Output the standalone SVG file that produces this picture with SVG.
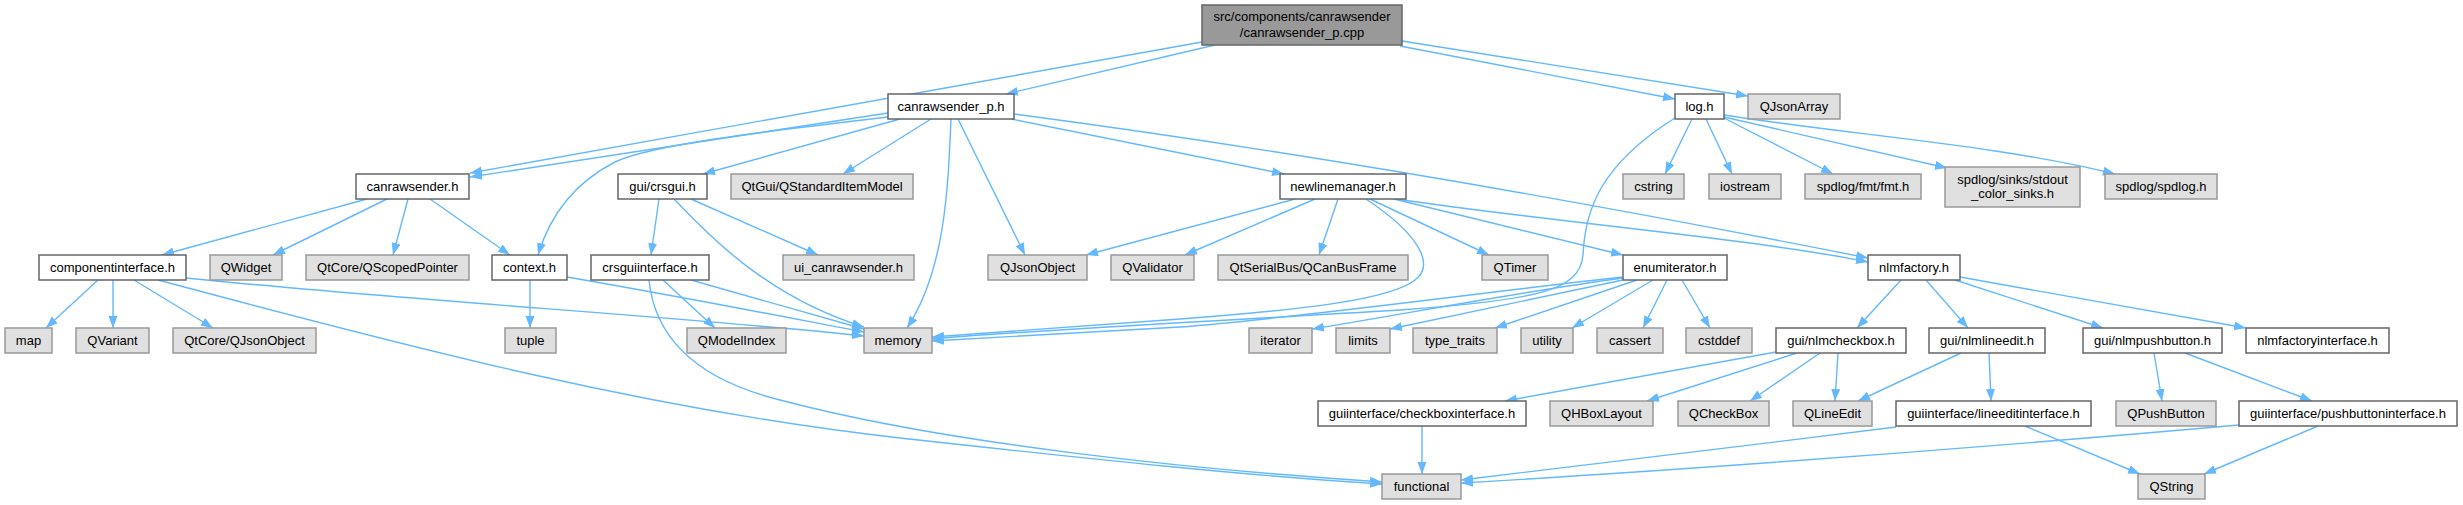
<svg xmlns="http://www.w3.org/2000/svg" width="2463" height="505" viewBox="0 0 2463 505">
<style>
.node rect{fill:#ffffff;stroke:#666666;stroke-width:1.5}
.ext rect{fill:#e0e0e0;stroke:#999999;stroke-width:1.5}
.root rect{fill:#999999;stroke:#666666;stroke-width:1.5}
text{font-family:"Liberation Sans",Arial,Helvetica,sans-serif;font-size:13px;fill:#000000;text-anchor:middle}
#edges path{fill:none;stroke:#63b8ff;stroke-width:1.4;marker-end:url(#ah)}
</style>
<defs>
<marker id="ah" markerUnits="userSpaceOnUse" markerWidth="13" markerHeight="10" refX="12" refY="4.5" orient="auto">
<path d="M0,0 L12,4.5 L0,9 z" fill="#63b8ff"/>
</marker>
</defs>
<rect x="0" y="0" width="2463" height="505" fill="#ffffff"/>
<g id="edges">
<path d="M1202,42 L470,173"/>
<path d="M888,113 L470,177"/>
<path d="M1215,45 L1006,94"/>
<path d="M1400,46 L1675,99"/>
<path d="M1402,41 L1748,96"/>
<path d="M888,117 C760,132 650,145 615,162 C570,185 548,222 538,255"/>
<path d="M900,119 L703,174"/>
<path d="M931,119 L843,174"/>
<path d="M951,119 C948,190 945,270 907,328"/>
<path d="M958,119 L1025,255"/>
<path d="M1011,119 L1284,174"/>
<path d="M1014,114 Q1400,165 1868,258"/>
<path d="M367,199 L162,255"/>
<path d="M387,199 L273,255"/>
<path d="M408,199 L393,255"/>
<path d="M430,199 L510,255"/>
<path d="M530,280 L530,328"/>
<path d="M567,277 C700,300 800,320 864,332"/>
<path d="M98,280 L46,328"/>
<path d="M113,280 L113,328"/>
<path d="M134,280 L213,328"/>
<path d="M186,278 C400,300 700,318 864,336"/>
<path d="M158,280 C420,350 650,410 900,438 C1100,460 1250,476 1382,484"/>
<path d="M659,199 L651,255"/>
<path d="M674,199 C700,225 760,295 864,327"/>
<path d="M691,199 L818,255"/>
<path d="M663,280 L715,328"/>
<path d="M691,280 L864,329"/>
<path d="M649,280 C655,340 700,380 780,400 C950,445 1200,470 1382,482"/>
<path d="M1295,199 L1086,255"/>
<path d="M1315,199 L1185,255"/>
<path d="M1338,199 L1319,255"/>
<path d="M1366,199 C1420,235 1435,265 1415,280 C1390,300 1300,310 1180,319 C1080,326 990,333 932,337"/>
<path d="M1370,199 L1489,255"/>
<path d="M1394,199 L1623,255"/>
<path d="M1396,199 C1550,222 1750,238 1868,262"/>
<path d="M1675,118 C1600,165 1585,210 1583,255 C1580,290 1540,300 1400,310 C1200,322 1000,332 932,339"/>
<path d="M1692,119 L1665,174"/>
<path d="M1706,119 L1732,174"/>
<path d="M1724,118 L1833,174"/>
<path d="M1724,117 L1947,168"/>
<path d="M1724,115 C1850,135 2000,145 2115,174"/>
<path d="M1623,277 C1500,290 1300,318 1180,327 C1080,332 990,338 932,341"/>
<path d="M1623,278 C1500,295 1400,315 1312,329"/>
<path d="M1623,280 L1390,329"/>
<path d="M1637,280 L1495,328"/>
<path d="M1653,280 L1572,328"/>
<path d="M1667,280 L1643,328"/>
<path d="M1682,280 L1710,328"/>
<path d="M1901,280 L1857,328"/>
<path d="M1926,280 L1968,328"/>
<path d="M1955,280 L2103,328"/>
<path d="M1960,277 L2246,328"/>
<path d="M1776,352 L1505,401"/>
<path d="M1797,353 L1647,401"/>
<path d="M1820,353 L1750,401"/>
<path d="M1838,353 L1835,401"/>
<path d="M1961,353 L1858,401"/>
<path d="M1989,353 L1991,401"/>
<path d="M2154,353 L2162,401"/>
<path d="M2185,353 L2312,401"/>
<path d="M1422,426 L1422,474"/>
<path d="M1896,427 C1750,445 1550,470 1461,480"/>
<path d="M2239,425 C1900,455 1600,475 1461,483"/>
<path d="M2025,426 L2140,474"/>
<path d="M2318,426 L2204,474"/>
</g>
<g id="n0" class="root"><rect x="1202" y="5" width="200" height="40"/><text x="1302" y="21">src/components/canrawsender</text><text x="1302" y="37">/canrawsender_p.cpp</text></g>
<g id="n1" class="node"><rect x="888" y="94" width="126" height="25"/><text x="951" y="111">canrawsender_p.h</text></g>
<g id="n2" class="node"><rect x="1675" y="94" width="49" height="25"/><text x="1699.5" y="111">log.h</text></g>
<g id="n3" class="ext"><rect x="1748" y="94" width="92" height="25"/><text x="1794" y="111">QJsonArray</text></g>
<g id="n4" class="node"><rect x="356" y="174" width="113" height="25"/><text x="412.5" y="191">canrawsender.h</text></g>
<g id="n5" class="node"><rect x="618" y="174" width="89" height="25"/><text x="662.5" y="191">gui/crsgui.h</text></g>
<g id="n6" class="ext"><rect x="731" y="174" width="182" height="25"/><text x="822" y="191">QtGui/QStandardItemModel</text></g>
<g id="n7" class="node"><rect x="1280" y="174" width="126" height="25"/><text x="1343" y="191">newlinemanager.h</text></g>
<g id="n8" class="ext"><rect x="1623" y="174" width="61" height="25"/><text x="1653.5" y="191">cstring</text></g>
<g id="n9" class="ext"><rect x="1709" y="174" width="72" height="25"/><text x="1745" y="191">iostream</text></g>
<g id="n10" class="ext"><rect x="1805" y="174" width="116" height="25"/><text x="1863" y="191">spdlog/fmt/fmt.h</text></g>
<g id="n11" class="ext"><rect x="1945" y="167" width="135" height="40"/><text x="2012.5" y="183.5">spdlog/sinks/stdout</text><text x="2012.5" y="198">_color_sinks.h</text></g>
<g id="n12" class="ext"><rect x="2105" y="174" width="112" height="25"/><text x="2161" y="191">spdlog/spdlog.h</text></g>
<g id="n13" class="node"><rect x="39" y="255" width="147" height="25"/><text x="112.5" y="272">componentinterface.h</text></g>
<g id="n14" class="ext"><rect x="210" y="255" width="72" height="25"/><text x="246" y="272">QWidget</text></g>
<g id="n15" class="ext"><rect x="306" y="255" width="163" height="25"/><text x="387.5" y="272">QtCore/QScopedPointer</text></g>
<g id="n16" class="node"><rect x="492" y="255" width="75" height="25"/><text x="529.5" y="272">context.h</text></g>
<g id="n17" class="node"><rect x="591" y="255" width="118" height="25"/><text x="650" y="272">crsguiinterface.h</text></g>
<g id="n18" class="ext"><rect x="783" y="255" width="131" height="25"/><text x="848.5" y="272">ui_canrawsender.h</text></g>
<g id="n19" class="ext"><rect x="988" y="255" width="99" height="25"/><text x="1037.5" y="272">QJsonObject</text></g>
<g id="n20" class="ext"><rect x="1111" y="255" width="83" height="25"/><text x="1152.5" y="272">QValidator</text></g>
<g id="n21" class="ext"><rect x="1218" y="255" width="190" height="25"/><text x="1313" y="272">QtSerialBus/QCanBusFrame</text></g>
<g id="n22" class="ext"><rect x="1482" y="255" width="66" height="25"/><text x="1515" y="272">QTimer</text></g>
<g id="n23" class="node"><rect x="1623" y="255" width="104" height="25"/><text x="1675" y="272">enumiterator.h</text></g>
<g id="n24" class="node"><rect x="1868" y="255" width="92" height="25"/><text x="1914" y="272">nlmfactory.h</text></g>
<g id="n25" class="ext"><rect x="5" y="328" width="47" height="25"/><text x="28.5" y="345">map</text></g>
<g id="n26" class="ext"><rect x="76" y="328" width="73" height="25"/><text x="112.5" y="345">QVariant</text></g>
<g id="n27" class="ext"><rect x="173" y="328" width="143" height="25"/><text x="244.5" y="345">QtCore/QJsonObject</text></g>
<g id="n28" class="ext"><rect x="505" y="328" width="51" height="25"/><text x="530.5" y="345">tuple</text></g>
<g id="n29" class="ext"><rect x="687" y="328" width="99" height="25"/><text x="736.5" y="345">QModelIndex</text></g>
<g id="n30" class="ext"><rect x="864" y="328" width="68" height="25"/><text x="898" y="345">memory</text></g>
<g id="n31" class="ext"><rect x="1249" y="328" width="63" height="25"/><text x="1280.5" y="345">iterator</text></g>
<g id="n32" class="ext"><rect x="1336" y="328" width="54" height="25"/><text x="1363" y="345">limits</text></g>
<g id="n33" class="ext"><rect x="1413" y="328" width="84" height="25"/><text x="1455" y="345">type_traits</text></g>
<g id="n34" class="ext"><rect x="1521" y="328" width="52" height="25"/><text x="1547" y="345">utility</text></g>
<g id="n35" class="ext"><rect x="1597" y="328" width="66" height="25"/><text x="1630" y="345">cassert</text></g>
<g id="n36" class="ext"><rect x="1686" y="328" width="66" height="25"/><text x="1719" y="345">cstddef</text></g>
<g id="n37" class="node"><rect x="1776" y="328" width="130" height="25"/><text x="1841" y="345">gui/nlmcheckbox.h</text></g>
<g id="n38" class="node"><rect x="1929" y="328" width="116" height="25"/><text x="1987" y="345">gui/nlmlineedit.h</text></g>
<g id="n39" class="node"><rect x="2083" y="328" width="139" height="25"/><text x="2152.5" y="345">gui/nlmpushbutton.h</text></g>
<g id="n40" class="node"><rect x="2246" y="328" width="143" height="25"/><text x="2317.5" y="345">nlmfactoryinterface.h</text></g>
<g id="n41" class="node"><rect x="1318" y="401" width="208" height="25"/><text x="1422" y="418">guiinterface/checkboxinterface.h</text></g>
<g id="n42" class="ext"><rect x="1550" y="401" width="103" height="25"/><text x="1601.5" y="418">QHBoxLayout</text></g>
<g id="n43" class="ext"><rect x="1678" y="401" width="91" height="25"/><text x="1723.5" y="418">QCheckBox</text></g>
<g id="n44" class="ext"><rect x="1793" y="401" width="79" height="25"/><text x="1832.5" y="418">QLineEdit</text></g>
<g id="n45" class="node"><rect x="1896" y="401" width="195" height="25"/><text x="1993.5" y="418">guiinterface/lineeditinterface.h</text></g>
<g id="n46" class="ext"><rect x="2116" y="401" width="100" height="25"/><text x="2166" y="418">QPushButton</text></g>
<g id="n47" class="node"><rect x="2239" y="401" width="218" height="25"/><text x="2348" y="418">guiinterface/pushbuttoninterface.h</text></g>
<g id="n48" class="ext"><rect x="1382" y="474" width="79" height="25"/><text x="1421.5" y="491">functional</text></g>
<g id="n49" class="ext"><rect x="2138" y="474" width="67" height="25"/><text x="2171.5" y="491">QString</text></g>
</svg>
